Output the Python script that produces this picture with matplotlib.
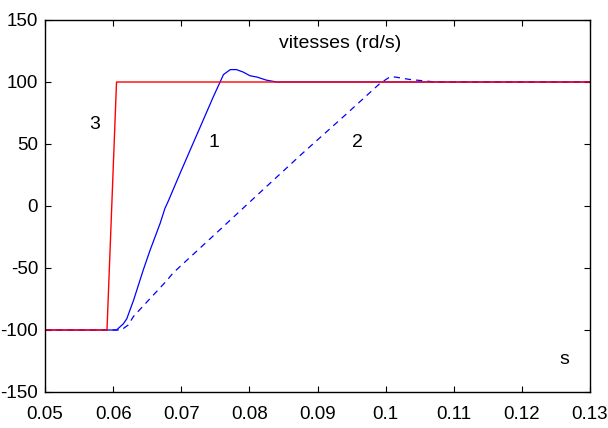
import numpy as np
import matplotlib.pyplot as plt

plt.rcParams['font.family'] = ['Liberation Sans', 'DejaVu Sans']

# curve 3: speed reference (red)
t_ref = [0.05, 0.0591, 0.0605, 0.13]
w_ref = [-100, -100, 100, 100]

# curve 1: speed, solid blue
t_1 = [0.05, 0.0605, 0.0615, 0.0620, 0.0630, 0.0644, 0.0654, 0.0669, 0.0676,
       0.0681, 0.0698, 0.0713, 0.0732, 0.0747, 0.0757, 0.0762, 0.0772,
       0.0781, 0.0791, 0.0801, 0.0811, 0.0825, 0.0840, 0.13]
w_1 = [-100, -100, -95, -91, -76, -52, -36, -14, -2,
       4, 26, 45, 69, 88, 100, 106, 110,
       110, 108, 105, 104, 101.5, 100, 100]

# curve 2: speed, dashed blue
t_2 = [0.05, 0.0612, 0.0622, 0.0630, 0.0679, 0.0688, 0.0757, 0.0806, 0.0877,
       0.0936, 0.0992, 0.1006, 0.1014, 0.1036, 0.1055, 0.1073, 0.13]
w_2 = [-100, -100, -96, -89, -60, -54, -19, 6, 42,
       71, 99, 104, 104, 102, 101, 100, 100]

x_ticks = [0.05, 0.06, 0.07, 0.08, 0.09, 0.1, 0.11, 0.12, 0.13]
x_labels = ['0.05', '0.06', '0.07', '0.08', '0.09', '0.1', '0.11', '0.12', '0.13']
y_ticks = [-150, -100, -50, 0, 50, 100, 150]
y_labels = ['-150', '-100', '-50', '0', '50', '100', '150']

fig = plt.figure(figsize=(6.08, 4.28), dpi=100)
ax = fig.add_axes([45 / 608, 1 - 392 / 428, 545 / 608, 372 / 428])

ax.plot(t_1, w_1, color='#0000ff', linewidth=0.9)
ax.plot(t_2, w_2, color='#0000ff', linewidth=0.9, linestyle=(0, (5, 4)))
ax.plot(t_ref, w_ref, color='#ff0000', linewidth=1.0)

ax.set_xlim(0.05, 0.13)
ax.set_ylim(-150, 150)
ax.set_xticks(x_ticks)
ax.set_xticklabels(x_labels)
ax.set_yticks(y_ticks)
ax.set_yticklabels(y_labels)
ax.tick_params(direction='in', length=4, width=0.8, top=True, right=True,
               labelsize=13.5)
ax.tick_params(axis='x', pad=10)
ax.tick_params(axis='y', pad=5)
for sp in ax.spines.values():
    sp.set_linewidth(1.0)

ax.text(0.0933, 131, 'vitesses (rd/s)', fontsize=14, ha='center', va='center')
ax.text(0.0573, 66, '3', fontsize=14, ha='center', va='center')
ax.text(0.0748, 51, '1', fontsize=14, ha='center', va='center')
ax.text(0.0958, 51, '2', fontsize=14, ha='center', va='center')
ax.text(0.1262, -124, 's', fontsize=14, ha='center', va='center')

fig.savefig('out.png', dpi=100)
